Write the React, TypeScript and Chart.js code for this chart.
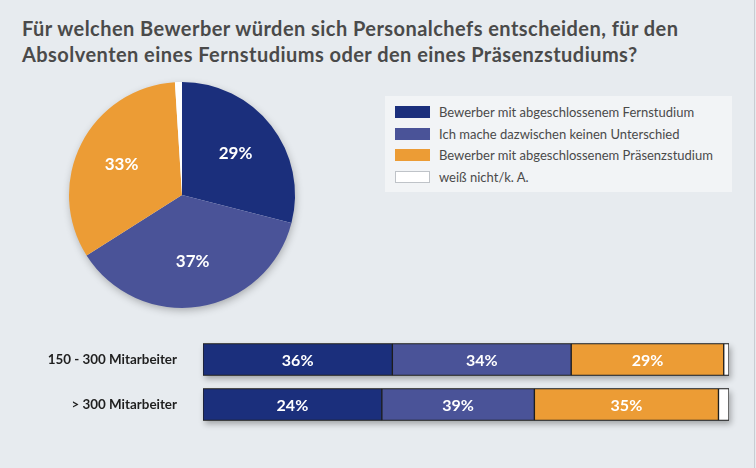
import React, { useEffect, useRef } from "react";
import { Chart, registerables } from "chart.js";

Chart.register(...registerables);

const titleLines = [
  "Für welchen Bewerber würden sich Personalchefs entscheiden, für den",
  "Absolventen eines Fernstudiums oder den eines Präsenzstudiums?",
];
const seriesNames = [
  "Bewerber mit abgeschlossenem Fernstudium",
  "Ich mache dazwischen keinen Unterschied",
  "Bewerber mit abgeschlossenem Präsenzstudium",
  "weiß nicht/k. A.",
];
const pieValues = [29, 37, 33, 1];
const pieLabels = ["29%", "37%", "33%", ""];

const barCategories = ["150 - 300 Mitarbeiter", "> 300 Mitarbeiter"];
const fernValues = [36, 34];
const keinenValues = [34, 29];
const praesenzValues = [29, 35];
const weissValues = [1, 2];
const fernLabels = ["36%", "24%"];
const keinenLabels = ["34%", "39%"];
const praesenzLabels = ["29%", "35%"];

const COLORS = ["#1b2f7c", "#4a5398", "#ec9c35", "#ffffff"];
const BG = "#e7ebef";
const FONT = "Lato, 'DejaVu Sans', sans-serif";

export default function App() {
  const pieRef = useRef<HTMLCanvasElement>(null);
  const barRef = useRef<HTMLCanvasElement>(null);

  useEffect(() => {
    document.body.style.margin = "0";
    const pieShadow = {
      id: "pieShadow",
      beforeDatasetsDraw(chart: any) {
        const arc = chart.getDatasetMeta(0).data[0];
        if (!arc) return;
        const { x, y, outerRadius } = arc.getProps(["x", "y", "outerRadius"], true);
        const ctx = chart.ctx;
        ctx.save();
        ctx.shadowColor = "rgba(0,0,0,0.3)";
        ctx.shadowBlur = 8;
        ctx.shadowOffsetX = 1;
        ctx.shadowOffsetY = 3;
        ctx.beginPath();
        ctx.arc(x, y, outerRadius - 1, 0, Math.PI * 2);
        ctx.fillStyle = BG;
        ctx.fill();
        ctx.restore();
      },
      afterDatasetsDraw(chart: any) {
        const ctx = chart.ctx;
        const meta = chart.getDatasetMeta(0);
        ctx.save();
        ctx.fillStyle = "#ffffff";
        ctx.font = `bold 17px ${FONT}`;
        ctx.textAlign = "center";
        ctx.textBaseline = "middle";
        meta.data.forEach((arc: any, i: number) => {
          const t = pieLabels[i];
          if (!t) return;
          const p = arc.getProps(["x", "y", "startAngle", "endAngle", "outerRadius"], true);
          const mid = (p.startAngle + p.endAngle) / 2;
          const r = p.outerRadius * 0.6;
          ctx.fillText(t, p.x + Math.cos(mid) * r, p.y + Math.sin(mid) * r);
        });
        ctx.restore();
      },
    };

    const pie = new Chart(pieRef.current!, {
      type: "pie",
      data: {
        labels: seriesNames,
        datasets: [
          {
            data: pieValues,
            backgroundColor: COLORS,
            borderWidth: 0,
            hoverOffset: 0,
            offset: 0,
          },
        ],
      },
      options: {
        responsive: true,
        maintainAspectRatio: false,
        animation: false,
        devicePixelRatio: 1,
        layout: { padding: 14 },
        plugins: { legend: { display: false }, tooltip: { enabled: false } },
      },
      plugins: [pieShadow],
    } as any);

    const barLabelSets = [fernLabels, keinenLabels, praesenzLabels];
    const barPlugin = {
      id: "barDeco",
      beforeDatasetsDraw(chart: any) {
        const ctx = chart.ctx;
        const first = chart.getDatasetMeta(0);
        const last = chart.getDatasetMeta(3);
        ctx.save();
        ctx.shadowColor = "rgba(0,0,0,0.3)";
        ctx.shadowBlur = 6;
        ctx.shadowOffsetX = 2;
        ctx.shadowOffsetY = 3;
        ctx.fillStyle = "#333";
        first.data.forEach((el: any, i: number) => {
          const a = el.getProps(["x", "y", "base", "height"], true);
          const b = last.data[i].getProps(["x"], true);
          ctx.fillRect(a.base, a.y - a.height / 2, b.x - a.base, a.height);
        });
        ctx.restore();
      },
      afterDatasetsDraw(chart: any) {
        const ctx = chart.ctx;
        ctx.save();
        ctx.fillStyle = "#ffffff";
        ctx.font = `bold 16px ${FONT}`;
        ctx.textAlign = "center";
        ctx.textBaseline = "middle";
        barLabelSets.forEach((labels, d) => {
          chart.getDatasetMeta(d).data.forEach((el: any, i: number) => {
            const p = el.getProps(["x", "y", "base"], true);
            ctx.fillText(labels[i], (p.x + p.base) / 2, p.y + 1);
          });
        });
        ctx.restore();
      },
    };

    const seriesData = [fernValues, keinenValues, praesenzValues, weissValues];
    const bar = new Chart(barRef.current!, {
      type: "bar",
      data: {
        labels: barCategories,
        datasets: seriesData.map((d, k) => ({
          label: seriesNames[k],
          data: d,
          backgroundColor: COLORS[k],
          borderColor: "#1e1e1e",
          borderWidth: 1,
          borderSkipped: false,
          barThickness: 32,
        })),
      },
      options: {
        indexAxis: "y",
        responsive: true,
        maintainAspectRatio: false,
        animation: false,
        devicePixelRatio: 1,
        layout: { padding: { top: 7, bottom: 8, right: 16, left: 0 } },
        scales: {
          x: { stacked: true, min: 0, max: 100, display: false },
          y: {
            stacked: true,
            grid: { display: false, drawTicks: false },
            border: { display: false },
            ticks: {
              padding: 26,
              color: "#1f1f1f",
              font: { family: FONT, weight: "bold", size: 13.4 },
            },
            afterFit(s: any) {
              s.width = 203;
              s.paddingTop = 0;
              s.paddingBottom = 0;
            },
          },
        },
        plugins: { legend: { display: false }, tooltip: { enabled: false } },
      },
      plugins: [barPlugin],
    } as any);

    return () => {
      pie.destroy();
      bar.destroy();
    };
  }, []);

  return (
    <div
      style={{
        position: "absolute",
        left: 0,
        top: 0,
        width: 756,
        height: 468,
        background: BG,
        overflow: "hidden",
        fontFamily: FONT,
      }}
    >
      <div
        style={{
          position: "absolute",
          left: 754,
          top: 0,
          width: 1,
          height: 468,
          background: "#c9cdd2",
        }}
      />
      <div
        style={{
          position: "absolute",
          left: 22,
          top: 15,
          fontSize: 20,
          letterSpacing: 0.45,
          lineHeight: "26px",
          fontWeight: "bold",
          color: "#4a4a4a",
          whiteSpace: "nowrap",
        }}
      >
        {titleLines.map((t) => (
          <div key={t}>{t}</div>
        ))}
      </div>
      <div style={{ position: "absolute", left: 55, top: 68, width: 254, height: 254 }}>
        <canvas ref={pieRef} />
      </div>
      <div
        style={{
          position: "absolute",
          left: 385,
          top: 96,
          width: 347,
          height: 96,
          background: "#f2f4f6",
          boxSizing: "border-box",
          paddingTop: 5,
        }}
      >
        {seriesNames.map((n, i) => (
          <div
            key={n}
            style={{ display: "flex", alignItems: "center", height: 21.7 }}
          >
            <div
              style={{
                marginLeft: 10,
                width: 35,
                height: 12,
                boxSizing: "border-box",
                background: COLORS[i],
                border: i === 3 ? "1px solid #bfc3c8" : "none",
              }}
            />
            <div
              style={{
                marginLeft: 9,
                fontSize: 13,
                color: "#4a4a4a",
                whiteSpace: "nowrap",
              }}
            >
              {n}
            </div>
          </div>
        ))}
      </div>
      <div style={{ position: "absolute", left: 0, top: 330, width: 745, height: 105 }}>
        <canvas ref={barRef} />
      </div>
    </div>
  );
}
